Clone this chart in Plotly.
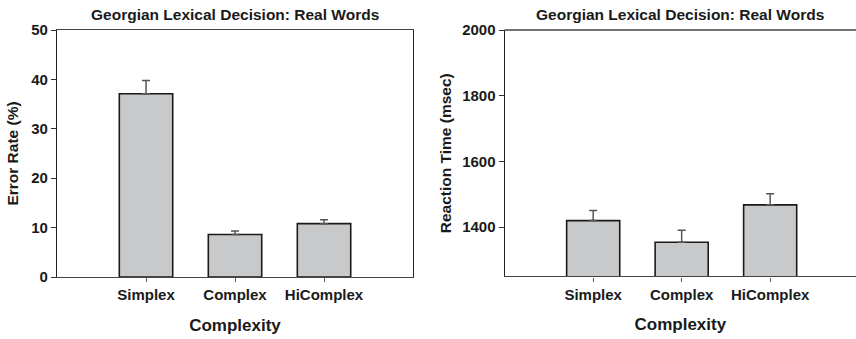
import plotly.graph_objects as go

categories = ["Simplex", "Complex", "HiComplex"]
error_rate = [37.1, 8.6, 10.8]
error_rate_err = [2.7, 0.7, 0.8]
reaction_time = [1420, 1354, 1468]
reaction_time_err = [31, 37, 34]
title_text = "Georgian Lexical Decision: Real Words"

FONT = "Arial, 'Liberation Sans', sans-serif"
BAR_FILL = "#c8c9cb"
BAR_LINE = "#1a1a1a"
ERR_COLOR = "#555555"

fig = go.Figure()

fig.add_trace(go.Bar(
    x=[0, 1, 2], y=error_rate, width=0.6,
    marker=dict(color=BAR_FILL, line=dict(color=BAR_LINE, width=1.6)),
    error_y=dict(type="data", array=error_rate_err, arrayminus=[0, 0, 0],
                 symmetric=False, color=ERR_COLOR, thickness=1.5, width=4),
    xaxis="x", yaxis="y", showlegend=False,
))
fig.add_trace(go.Bar(
    x=[0, 1, 2], y=reaction_time, width=0.6,
    marker=dict(color=BAR_FILL, line=dict(color=BAR_LINE, width=1.6)),
    error_y=dict(type="data", array=reaction_time_err, arrayminus=[0, 0, 0],
                 symmetric=False, color=ERR_COLOR, thickness=1.5, width=4),
    xaxis="x2", yaxis="y2", showlegend=False,
))

tickfont = dict(family=FONT, size=15, color="#1a1a1a", weight="bold")
titlefont = dict(family=FONT, size=15.5, color="#1a1a1a", weight="bold")
xtitlefont = dict(family=FONT, size=17, color="#1a1a1a", weight="bold")

common_x = dict(
    tickmode="array", tickvals=[0, 1, 2], ticktext=categories,
    ticks="outside", ticklen=4, tickcolor="#555", tickwidth=1.2,
    showline=True, linecolor="#444", linewidth=1.3, automargin=False,
    showgrid=False, zeroline=False, tickfont=tickfont,
    title=dict(text="Complexity", font=xtitlefont, standoff=16),
)

fig.update_layout(
    width=856, height=339,
    margin=dict(l=0, r=0, t=0, b=0, autoexpand=False),
    paper_bgcolor="white", plot_bgcolor="white",
    font=dict(family=FONT),
    xaxis=dict(domain=[0.0666, 0.4825], range=[-1, 3], anchor="y",
               mirror=True, **common_x),
    yaxis=dict(domain=[0.1829, 0.9115], range=[0, 50], anchor="x",
               tickvals=[0, 10, 20, 30, 40, 50], ticks="outside", ticklen=5,
               tickcolor="#333", showline=True, linecolor="#222", linewidth=1.3,
               mirror=True, showgrid=False, zeroline=False, tickfont=tickfont,
               automargin=False,
               title=dict(text="Error Rate (%)", font=titlefont, standoff=8)),
    xaxis2=dict(domain=[0.5896, 1.0], range=[-1, 2.97], anchor="y2", **common_x),
    yaxis2=dict(domain=[0.1844, 0.9115], range=[1250, 2000], anchor="x2",
                tickvals=[1400, 1600, 1800, 2000], ticks="outside", ticklen=5,
                tickcolor="#333", showline=True, linecolor="#222", linewidth=1.3,
                showgrid=False, zeroline=False, tickfont=tickfont,
                automargin=False,
                title=dict(text="Reaction Time (msec)", font=titlefont, standoff=6)),
    annotations=[
        dict(text=title_text, xref="x domain", yref="paper",
             x=0.5, y=1 - 14 / 339, xanchor="center", yanchor="middle",
             showarrow=False, font=dict(family=FONT, size=15.5, color="#1a1a1a", weight="bold")),
        dict(text=title_text, xref="x2 domain", yref="paper",
             x=0.5, y=1 - 14 / 339, xanchor="center", yanchor="middle",
             showarrow=False, font=dict(family=FONT, size=15.5, color="#1a1a1a", weight="bold")),
    ],
    shapes=[
        dict(type="line", xref="x2 domain", yref="y2 domain", x0=0, x1=1, y0=1, y1=1,
             line=dict(color="#444", width=1.3)),
    ],
    bargap=0.4,
)

fig.write_html("out.html")
